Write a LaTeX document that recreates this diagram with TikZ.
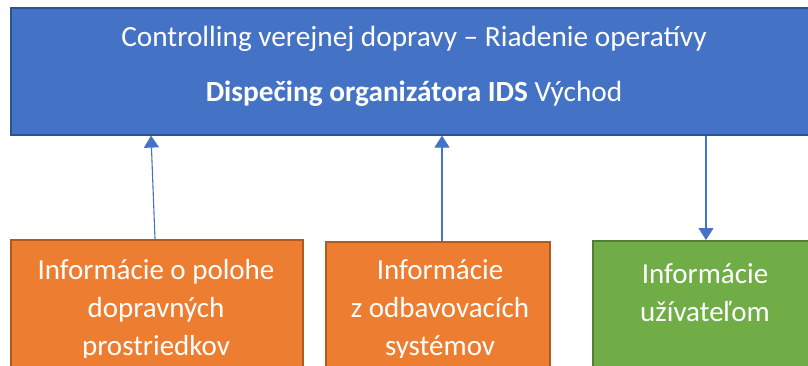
\documentclass[tikz,border=0pt]{standalone}
\usepackage{fontspec}
\setmainfont{Carlito}
\usetikzlibrary{arrows.meta,calc}
\definecolor{cblue}{HTML}{4472C4}
\definecolor{cbluedk}{HTML}{2F528F}
\definecolor{corange}{HTML}{ED7D31}
\definecolor{corangedk}{HTML}{AE5A21}
\definecolor{cgreen}{HTML}{70AD47}
\definecolor{cgreendk}{HTML}{507E32}
\tikzset{
  boxbase/.style={rectangle, line width=1.6pt, inner sep=0pt, anchor=north west},
  bluebox/.style={boxbase, fill=cblue, draw=cbluedk},
  orangebox/.style={boxbase, fill=corange, draw=corangedk},
  greenbox/.style={boxbase, fill=cgreen, draw=cgreendk},
  toptext/.style={text=white, font=\fontsize{29.3}{35}\selectfont, anchor=base, inner sep=0pt},
  bottext/.style={text=white, font=\fontsize{29}{38}\selectfont, anchor=base, align=center, inner sep=0pt},
  arr/.style={draw=cblue, line width=1.1pt, -{Triangle[width=15pt,length=12pt]}}
}
\begin{document}
\begin{tikzpicture}[x=1pt,y=-1pt]
\useasboundingbox (0,0) rectangle (808,365);
\clip (0,0) rectangle (808,365);
\node[bluebox, minimum width=808pt, minimum height=127pt] (top) at (10,7) {};
\node[orangebox, minimum width=292pt, minimum height=160pt] (o1) at (10,239) {};
\node[orangebox, minimum width=224pt, minimum height=160pt] (o2) at (325,241) {};
\node[greenbox, minimum width=226pt, minimum height=160pt] (g1) at (592,240) {};
\node[toptext] (t1) at (414,46) {Controlling verejnej dopravy – Riadenie operatívy};
\node[toptext] (t2) at (414,101) {\textbf{Dispečing organizátora IDS} Východ};
% anchor=base of a multi-line node is the baseline of its last line
\begin{scope}
\clip (0,0) rectangle (808,357);
\node[bottext] (ot1) at (156,355) {Informácie o polohe\\dopravných\\prostriedkov};
\node[bottext] (ot2) at (440,355) {Informácie\\z odbavovacích\\systémov};
\end{scope}
\node[bottext] (gt1) at (705,321) {Informácie\\užívateľom};
\draw[arr] ([xshift=145pt]o1.north west) -- ([xshift=141pt]top.south west);
\draw[arr] ([xshift=117pt]o2.north west) -- ([xshift=432pt]top.south west);
\draw[arr] ([xshift=696pt]top.south west) -- ([xshift=114pt]g1.north west);
\end{tikzpicture}
\end{document}
